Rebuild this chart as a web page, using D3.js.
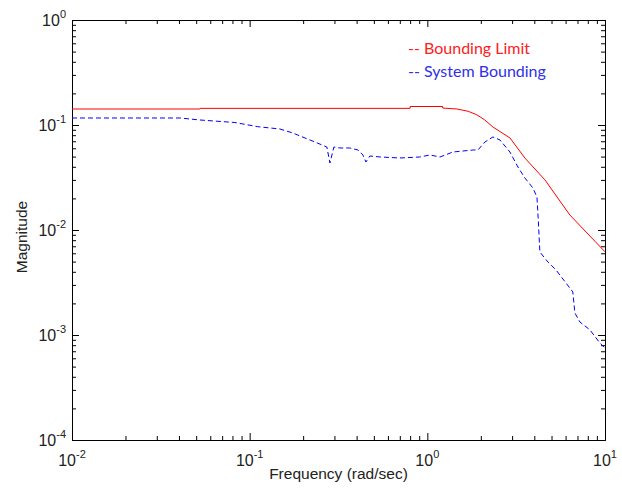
<!DOCTYPE html>
<html>
<head>
<meta charset="utf-8">
<script src="https://cdn.jsdelivr.net/npm/d3@7"></script>
<style>
  body { margin: 0; background: #fff; }
  svg { display: block; }
  text { font-family: "Liberation Sans", Arial, sans-serif; }
  text.legend { font-family: Lato, "Open Sans", sans-serif; }
</style>
</head>
<body>
<div id="chart"></div>
<script>
// values
const limitFreq = [0.01, 0.0525, 0.0526, 0.80, 0.801, 1.22, 1.221, 1.47, 1.70, 1.90, 2.10, 2.34, 2.92, 3.54, 4.59, 6.34, 10];
const limitMag  = [0.142, 0.142, 0.144, 0.144, 0.150, 0.150, 0.145, 0.142, 0.135, 0.125, 0.112, 0.0957, 0.0752, 0.0485, 0.030, 0.0139, 0.0062];

const sysFreq = [0.01, 0.0406, 0.0525, 0.0826, 0.111, 0.148, 0.175, 0.192, 0.233, 0.272, 0.283, 0.298, 0.322, 0.366,
                 0.407, 0.434, 0.451, 0.475, 0.541, 0.701, 0.908, 1.034, 1.178, 1.394, 1.806, 1.927, 2.109, 2.339,
                 2.563, 2.916, 3.236, 3.54, 3.93, 4.14, 4.22, 4.30, 4.77, 5.30, 6.03, 6.59, 6.77, 7.22, 8.22, 9.36, 10];
const sysMag  = [0.1166, 0.1166, 0.1116, 0.1056, 0.0964, 0.0916, 0.0839, 0.0786, 0.0689, 0.0617, 0.0435, 0.0617, 0.0604, 0.0604,
                 0.0578, 0.0518, 0.0444, 0.0507, 0.0496, 0.0485, 0.0496, 0.0518, 0.0496, 0.0553, 0.0578, 0.0578, 0.0689, 0.0769,
                 0.072, 0.0553, 0.0398, 0.0313, 0.0251, 0.0206, 0.01166, 0.00617, 0.00496, 0.00416, 0.00313, 0.00257, 0.00162, 0.00133, 0.00112, 0.00084, 0.00075];

const xMajor = [-2, -1, 0, 1];
const yMajor = [-4, -3, -2, -1, 0];
const legendLabels = ["-- Bounding Limit", "-- System Bounding"];

const W = 622, H = 491;
const mLeft = 72, mRight = 605, mTop = 20, mBottom = 440;

let svg = d3.select("#chart").append("svg")
    .attr("width", W)
    .attr("height", H);

let x = d3.scaleLog().domain([0.01, 10]).range([mLeft, mRight]);
let y = d3.scaleLog().domain([1e-4, 1]).range([mBottom, mTop]);

// minor tick positions 2..9 in each decade
let minorOf = (lo, hi) => {
    let out = [];
    for (let e = lo; e < hi; e++) {
        for (let k = 2; k <= 9; k++) out.push(k * Math.pow(10, e));
    }
    return out;
};
const xMinor = minorOf(-2, 1);
const yMinor = minorOf(-4, 0);

let drawAxis = (axisFn, scale, values, size, transform) => {
    let g = svg.append("g")
        .attr("transform", transform)
        .call(axisFn(scale).tickValues(values).tickSize(size).tickSizeOuter(0).tickFormat(""));
    g.select(".domain").attr("stroke", "#000");
    g.selectAll(".tick line").attr("stroke", "#000");
    return g;
};

const xMaj = xMajor.map(e => Math.pow(10, e));
const yMaj = yMajor.map(e => Math.pow(10, e));

drawAxis(d3.axisBottom, x, xMinor, -4, `translate(0,${mBottom})`);
drawAxis(d3.axisBottom, x, xMaj, -7, `translate(0,${mBottom})`);
drawAxis(d3.axisTop, x, xMinor, -4, `translate(0,${mTop})`);
drawAxis(d3.axisTop, x, xMaj, -7, `translate(0,${mTop})`);
drawAxis(d3.axisLeft, y, yMinor, -4, `translate(${mLeft},0)`);
drawAxis(d3.axisLeft, y, yMaj, -7, `translate(${mLeft},0)`);
drawAxis(d3.axisRight, y, yMinor, -4, `translate(${mRight},0)`);
drawAxis(d3.axisRight, y, yMaj, -7, `translate(${mRight},0)`);

// tick labels 10^n
let powLabel = (sel, e) => {
    sel.append("tspan").attr("font-size", 16).text("10");
    sel.append("tspan").attr("font-size", 11).attr("dy", -8).text(e);
};

xMajor.forEach(e => {
    let t = svg.append("text")
        .attr("x", x(Math.pow(10, e)))
        .attr("y", 466)
        .attr("text-anchor", "middle")
        .attr("fill", "#222");
    powLabel(t, e);
});

yMajor.forEach(e => {
    let t = svg.append("text")
        .attr("x", 66)
        .attr("y", y(Math.pow(10, e)) + 6)
        .attr("text-anchor", "end")
        .attr("fill", "#222");
    powLabel(t, e);
});

svg.append("text")
    .attr("x", (mLeft + mRight) / 2)
    .attr("y", 479)
    .attr("text-anchor", "middle")
    .attr("font-size", 15.5)
    .attr("fill", "#222")
    .text("Frequency (rad/sec)");

svg.append("text")
    .attr("transform", "translate(27,237) rotate(-90)")
    .attr("text-anchor", "middle")
    .attr("font-size", 15.5)
    .attr("fill", "#222")
    .text("Magnitude");

// curves
let line = d3.line().x(d => x(d[0])).y(d => y(d[1]));

svg.append("path")
    .datum(d3.zip(limitFreq, limitMag))
    .attr("fill", "none")
    .attr("stroke", "#ff0000")
    .attr("stroke-width", 1)
    .attr("d", line);

svg.append("path")
    .datum(d3.zip(sysFreq, sysMag))
    .attr("fill", "none")
    .attr("stroke", "#0000ff")
    .attr("stroke-width", 1)
    .attr("stroke-dasharray", "5,3")
    .attr("d", line);

// legend
const legendColors = ["#ff2020", "#3030e8"];
legendLabels.forEach((s, i) => {
    svg.append("text")
        .attr("class", "legend")
        .attr("x", 408)
        .attr("y", 54 + i * 23)
        .attr("font-size", 16)
        .attr("fill", legendColors[i])
        .text(s);
});
</script>
</body>
</html>
